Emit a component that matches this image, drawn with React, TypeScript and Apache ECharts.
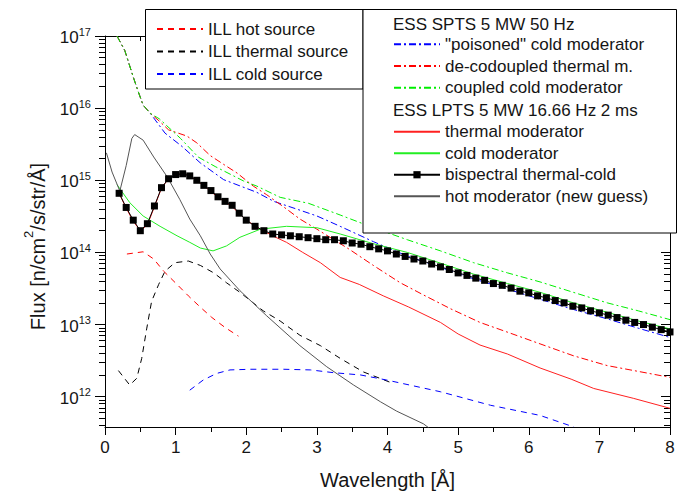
import React, { useEffect, useRef } from "react";
import * as echarts from "echarts";

type Pt = [number, number];

// ---- data: [wavelength (Å), flux (n/cm²/s/str/Å)] ----
const illHot: Pt[] = [
  [0.31, 9.5e13], [0.54, 1.02e14], [0.69, 8.1e13], [0.83, 5.5e13], [1.02, 3.6e13],
  [1.18, 2.5e13], [1.35, 1.74e13], [1.51, 1.26e13], [1.7, 9.1e12], [1.89, 6.9e12],
];
const illThermal: Pt[] = [
  [0.19, 2.3e12], [0.35, 1.45e12], [0.45, 1.8e12], [0.52, 3.4e12], [0.59, 8.7e12],
  [0.66, 2.1e13], [0.76, 3.6e13], [0.85, 5.5e13], [0.99, 7.2e13], [1.18, 7.6e13],
  [1.35, 6.6e13], [1.54, 5.2e13], [1.72, 3.8e13], [1.91, 2.8e13], [2.24, 1.55e13],
  [2.48, 1.12e13], [2.76, 7.1e12], [3.05, 5.1e12], [3.33, 3.4e12], [3.66, 2.2e12],
  [4.04, 1.58e12],
];
const illCold: Pt[] = [
  [1.2, 1.23e12], [1.39, 1.7e12], [1.58, 2.1e12], [1.77, 2.35e12], [2.06, 2.4e12],
  [2.53, 2.4e12], [2.91, 2.35e12], [3.24, 2.15e12], [3.62, 2.0e12], [3.99, 1.7e12],
  [4.75, 1.17e12], [5.46, 7.6e11], [6.16, 5.5e11], [6.64, 3.8e11],
];
const poisonedCold: Pt[] = [
  [0.17, 1.0e17], [0.28, 6.3e16], [0.4, 2.7e16], [0.47, 1.7e16], [0.54, 1.1e16],
  [0.64, 8.5e15], [0.85, 4.5e15], [1.09, 2.95e15], [1.35, 1.74e15], [1.68, 1.02e15],
  [2.15, 6.8e14], [2.39, 5.1e14], [2.71, 4.0e14], [3.0, 3.2e14], [3.33, 2.3e14],
  [3.8, 1.41e14], [4.28, 8.9e13], [4.75, 6.2e13], [5.22, 4.3e13], [5.7, 3.1e13],
  [6.16, 2.24e13], [6.63, 1.62e13], [7.11, 1.2e13], [7.55, 8.9e12], [7.96, 6.8e12],
  [8.0, 6.6e12],
];
const decoupledThermal: Pt[] = [
  [0.17, 1.0e17], [0.28, 6.3e16], [0.4, 2.7e16], [0.47, 1.7e16], [0.54, 1.1e16],
  [0.64, 8.5e15], [0.77, 6.6e15], [0.9, 5.0e15], [1.16, 4.1e15], [1.3, 3.3e15],
  [1.49, 2.2e15], [1.68, 1.66e15], [1.87, 1.26e15], [2.1, 8.3e14], [2.29, 6.3e14],
  [2.57, 4.0e14], [2.76, 2.9e14], [3.0, 2.1e14], [3.24, 1.5e14], [3.45, 1.12e14],
  [3.8, 6.6e13], [4.18, 3.8e13], [4.5, 2.6e13], [4.89, 1.66e13], [5.31, 1.07e13],
  [5.69, 7.9e12], [6.16, 5.4e12], [6.63, 3.7e12], [7.11, 2.7e12], [7.49, 2.3e12],
  [7.94, 1.9e12], [8.0, 1.85e12],
];
const coupledCold: Pt[] = [
  [0.17, 1.0e17], [0.28, 6.3e16], [0.4, 2.7e16], [0.47, 1.7e16], [0.54, 1.1e16],
  [0.64, 8.5e15], [0.77, 7.1e15], [1.07, 3.8e15], [1.32, 2.1e15], [1.56, 1.55e15],
  [1.96, 9.8e14], [2.15, 8.3e14], [2.48, 5.8e14], [2.88, 4.8e14], [3.33, 3.3e14],
  [3.8, 2.2e14], [4.28, 1.5e14], [4.75, 1.05e14], [5.22, 7.2e13], [5.7, 5.2e13],
  [6.16, 3.9e13], [6.63, 2.8e13], [7.11, 2.0e13], [7.55, 1.55e13], [7.96, 1.2e13],
  [8.0, 1.17e13],
];
const lptsThermal: Pt[] = [
  [0.2, 6.6e14], [0.3, 4.1e14], [0.4, 2.7e14], [0.5, 2.0e14], [0.6, 2.4e14],
  [0.7, 4.3e14], [0.8, 7.8e14], [0.9, 1.05e15], [1.0, 1.2e15], [1.1, 1.23e15],
  [1.2, 1.15e15], [1.4, 8.4e14], [1.6, 5.8e14], [1.8, 4.3e14], [2.0, 2.8e14],
  [2.2, 2.1e14], [2.4, 1.65e14], [2.57, 1.38e14], [2.8, 1.0e14], [3.05, 7.2e13],
  [3.33, 4.5e13], [3.6, 3.6e13], [3.94, 2.5e13], [4.3, 1.75e13], [4.75, 1.07e13],
  [5.0, 7.4e12], [5.31, 5.2e12], [5.7, 3.9e12], [6.16, 2.5e12], [6.6, 1.75e12],
  [6.92, 1.3e12], [7.48, 9.5e11], [8.0, 6.9e11],
];
const lptsCold: Pt[] = [
  [0.17, 8.7e14], [0.35, 4.9e14], [0.54, 3.2e14], [0.78, 2.3e14], [1.02, 1.7e14],
  [1.2, 1.38e14], [1.35, 1.15e14], [1.53, 1.05e14], [1.72, 1.23e14], [1.91, 1.62e14],
  [2.2, 2.1e14], [2.57, 2.3e14], [3.0, 2.2e14], [3.33, 1.8e14], [3.8, 1.32e14],
  [4.28, 1.0e14], [4.75, 7.1e13], [5.22, 5.0e13], [5.7, 3.7e13], [6.16, 2.8e13],
  [6.63, 2.0e13], [7.11, 1.48e13], [7.55, 1.12e13], [8.0, 8.7e12],
];
const bispectral: Pt[] = [
  [0.2, 6.6e14], [0.3, 4.2e14], [0.4, 2.8e14], [0.5, 2.0e14], [0.6, 2.5e14],
  [0.7, 4.4e14], [0.8, 7.9e14], [0.9, 1.05e15], [1.0, 1.2e15], [1.1, 1.23e15],
  [1.2, 1.15e15], [1.3, 1.0e15], [1.4, 8.5e14], [1.5, 7.2e14], [1.6, 5.9e14],
  [1.7, 5.1e14], [1.8, 4.5e14], [1.9, 3.5e14], [2.0, 2.8e14], [2.125, 2.3e14],
  [2.25, 2.0e14], [2.375, 1.8e14], [2.5, 1.75e14], [2.625, 1.7e14], [2.75, 1.65e14],
  [2.875, 1.6e14], [3.0, 1.55e14], [3.125, 1.5e14], [3.25, 1.5e14], [3.375, 1.45e14],
  [3.5, 1.35e14], [3.625, 1.3e14], [3.75, 1.2e14], [3.875, 1.12e14], [4.0, 1.05e14],
  [4.125, 9.5e13], [4.25, 8.8e13], [4.375, 8.1e13], [4.5, 7.6e13], [4.625, 6.9e13],
  [4.75, 6.3e13], [4.875, 5.8e13], [5.0, 5.2e13], [5.125, 4.8e13], [5.25, 4.4e13],
  [5.375, 4.1e13], [5.5, 3.7e13], [5.625, 3.5e13], [5.75, 3.2e13], [5.875, 2.9e13],
  [6.0, 2.75e13], [6.125, 2.5e13], [6.25, 2.35e13], [6.375, 2.15e13], [6.5, 2.0e13],
  [6.625, 1.8e13], [6.75, 1.7e13], [6.875, 1.55e13], [7.0, 1.45e13], [7.125, 1.35e13],
  [7.25, 1.25e13], [7.375, 1.15e13], [7.5, 1.07e13], [7.625, 1.0e13], [7.75, 9.2e12],
  [7.875, 8.5e12], [8.0, 7.9e12],
];
const hotModerator: Pt[] = [
  [0.02, 2.4e15], [0.1, 1.3e15], [0.21, 7.1e14], [0.3, 1.6e15], [0.38, 3.8e15],
  [0.42, 4.3e15], [0.54, 3.6e15], [0.69, 2.1e15], [0.88, 1.12e15], [1.06, 5.4e14],
  [1.2, 2.9e14], [1.35, 1.7e14], [1.49, 9.5e13], [1.63, 5.9e13], [1.91, 2.95e13],
  [2.29, 1.32e13], [2.76, 5.1e12], [3.14, 2.6e12], [3.52, 1.45e12], [3.9, 8.5e11],
  [4.13, 6.3e11], [4.51, 4.2e11], [4.6, 3.6e11],
];

const yDecades = [12, 13, 14, 15, 16, 17];
const yMinFlux = 3.8e11;
const yMaxFlux = 1e17;
const xTicks = [0, 1, 2, 3, 4, 5, 6, 7, 8];

const legendILL = ["ILL hot source", "ILL thermal source", "ILL cold source"];
const legendSPTS = ['"poisoned" cold moderator', "de-codoupled thermal m.", "coupled cold moderator"];
const legendLPTS = ["thermal moderator", "cold moderator", "bispectral thermal-cold", "hot moderator (new guess)"];
const headerSPTS = "ESS SPTS 5 MW 50 Hz";
const headerLPTS = "ESS LPTS 5 MW 16.66 Hz 2 ms";

const FONT = "Liberation Sans, Arial, sans-serif";
const TXT = "#151515";

const toLog = (pts: Pt[]) => pts.map(([x, f]) => [x, Math.log10(f)]);

export default function App() {
  const ref = useRef<HTMLDivElement>(null);
  useEffect(() => {
    if (!ref.current) return;
    const chart = echarts.init(ref.current, undefined, { renderer: "svg" });
    const yMin = Math.log10(yMinFlux);
    const yMax = Math.log10(yMaxFlux);
    const minors: number[] = [];
    for (let n = 11; n <= 16; n++) {
      for (let k = 2; k <= 9; k++) {
        const v = Math.log10(k) + n;
        if (v > yMin && v < yMax) minors.push(v);
      }
    }
    const dashDot = [7, 3, 2, 3];
    const dashed = [6, 5];
    const line = (name: string, pts: Pt[], color: string, type: any, extra: any = {}) => ({
      name,
      type: "line",
      data: toLog(pts),
      symbol: "none",
      showSymbol: false,
      lineStyle: { color, width: 1, type },
      itemStyle: { color },
      z: 2,
      ...extra,
    });
    const axisLineStyle = { color: "#000", width: 1 };
    const yBase = {
      type: "value",
      min: yMin,
      max: yMax,
      splitLine: { show: false },
    };
    const legendBase = {
      orient: "vertical",
      padding: 0,
      itemGap: 0,
      itemWidth: 46,
      itemHeight: 9,
      selectedMode: false,
      z: 5,
    };
    const noSym = (name: string) => ({ name, itemStyle: { opacity: 0 } });
    const option: any = {
      animation: false,
      backgroundColor: "#fff",
      grid: { left: 105, right: 10, top: 36, bottom: 66, containLabel: false },
      xAxis: [
        {
          type: "value",
          min: xTicks[0],
          max: xTicks[xTicks.length - 1],
          interval: 1,
          position: "bottom",
          axisLine: { show: true, onZero: false, lineStyle: axisLineStyle },
          axisTick: { show: true, length: 8, lineStyle: axisLineStyle },
          minorTick: { show: true, splitNumber: 2, length: 5, lineStyle: axisLineStyle },
          axisLabel: { fontSize: 17, margin: 12, color: TXT, fontFamily: FONT },
          splitLine: { show: false },
          name: "Wavelength [Å]",
          nameLocation: "middle",
          nameGap: 43,
          nameTextStyle: { fontSize: 20, color: TXT, fontFamily: FONT },
        },
        {
          type: "value",
          min: xTicks[0],
          max: xTicks[xTicks.length - 1],
          interval: 1,
          position: "top",
          axisLine: { show: true, onZero: false, lineStyle: axisLineStyle },
          axisTick: { show: true, inside: true, length: 8, lineStyle: axisLineStyle },
          minorTick: { show: true, splitNumber: 2, length: 5, lineStyle: axisLineStyle },
          axisLabel: { show: false },
          splitLine: { show: false },
        },
      ],
      yAxis: [
        {
          ...yBase,
          position: "left",
          axisLine: { show: true, onZero: false, lineStyle: axisLineStyle },
          axisTick: { show: true, length: 10, customValues: yDecades, lineStyle: axisLineStyle },
          axisLabel: {
            customValues: yDecades,
            margin: 14,
            formatter: (v: number) => `{b|10}{e|${Math.round(v)}}`,
            rich: {
              b: { fontSize: 17, fontFamily: FONT, color: TXT, lineHeight: 20, verticalAlign: "bottom" },
              e: { fontSize: 11, fontFamily: FONT, color: TXT, lineHeight: 12, verticalAlign: "top" },
            },
          },
          name: "{a|Flux [n/cm}{s|2}{a|/s/str/Å]}",
          nameLocation: "middle",
          nameGap: 57,
          nameTextStyle: {
            padding: [0, 30, 0, 0],
            rich: {
              a: { fontSize: 20, fontFamily: FONT, color: TXT, lineHeight: 26, verticalAlign: "bottom" },
              s: { fontSize: 13, fontFamily: FONT, color: TXT, lineHeight: 14, verticalAlign: "top" },
            },
          },
        },
        {
          ...yBase,
          position: "right",
          axisLine: { show: true, onZero: false, lineStyle: axisLineStyle },
          axisTick: { show: true, inside: true, length: 9, customValues: yDecades, lineStyle: axisLineStyle },
          axisLabel: { show: false },
        },
        {
          ...yBase,
          position: "left",
          axisLine: { show: false, onZero: false },
          axisTick: { show: true, length: 6, customValues: minors, lineStyle: axisLineStyle },
          axisLabel: { show: false },
        },
        {
          ...yBase,
          position: "right",
          axisLine: { show: false, onZero: false },
          axisTick: { show: true, inside: true, length: 6, customValues: minors, lineStyle: axisLineStyle },
          axisLabel: { show: false },
        },
      ],
      legend: [
        {
          ...legendBase,
          data: legendILL.map(noSym),
          left: 156,
          top: 17.75,
          textStyle: { fontSize: 17, lineHeight: 22.5, color: TXT, fontFamily: FONT },
        },
        {
          ...legendBase,
          data: legendSPTS.map(noSym),
          left: 393,
          top: 33.5,
          textStyle: { fontSize: 17, lineHeight: 21.7, color: TXT, fontFamily: FONT },
        },
        {
          ...legendBase,
          data: legendLPTS.map((n, i) => (i === 2 ? { name: n } : noSym(n))),
          left: 393,
          top: 121,
          textStyle: { fontSize: 17, lineHeight: 21.5, color: TXT, fontFamily: FONT },
        },
      ],
      graphic: [
        {
          type: "rect",
          z: 3,
          shape: { x: 145.5, y: 9.5, width: 217.5, height: 79.5 },
          style: { fill: "#fff", stroke: "#000", lineWidth: 1 },
        },
        {
          type: "rect",
          z: 3,
          shape: { x: 363, y: 9.5, width: 313.5, height: 223.5 },
          style: { fill: "#fff", stroke: "#000", lineWidth: 1 },
        },
        {
          type: "text",
          z: 5,
          x: 393,
          y: 24,
          style: { text: headerSPTS, fontSize: 17, fontFamily: FONT, fill: TXT, verticalAlign: "middle" },
        },
        {
          type: "text",
          z: 5,
          x: 393,
          y: 110.7,
          style: { text: headerLPTS, fontSize: 17, fontFamily: FONT, fill: TXT, verticalAlign: "middle" },
        },
      ],
      series: [
        line(legendILL[0], illHot, "#ff0000", dashed),
        line(legendILL[1], illThermal, "#000000", dashed),
        line(legendILL[2], illCold, "#0000ff", dashed),
        line(legendSPTS[0], poisonedCold, "#0000ff", dashDot),
        line(legendSPTS[1], decoupledThermal, "#ff0000", dashDot),
        line(legendSPTS[2], coupledCold, "#00ee00", dashDot),
        line(legendLPTS[0], lptsThermal, "#ff2020", "solid"),
        line(legendLPTS[1], lptsCold, "#22ee22", "solid"),
        line(legendLPTS[3], hotModerator, "#555555", "solid"),
        line(legendLPTS[2], bispectral, "#000000", "solid", {
          symbol: "rect",
          showSymbol: true,
          symbolSize: 7,
          z: 3,
        }),
      ],
    };
    chart.setOption(option);
    return () => chart.dispose();
  }, []);
  return (
    <div
      ref={ref}
      style={{ position: "fixed", left: 0, top: 0, width: 680, height: 495, background: "#fff" }}
    />
  );
}
